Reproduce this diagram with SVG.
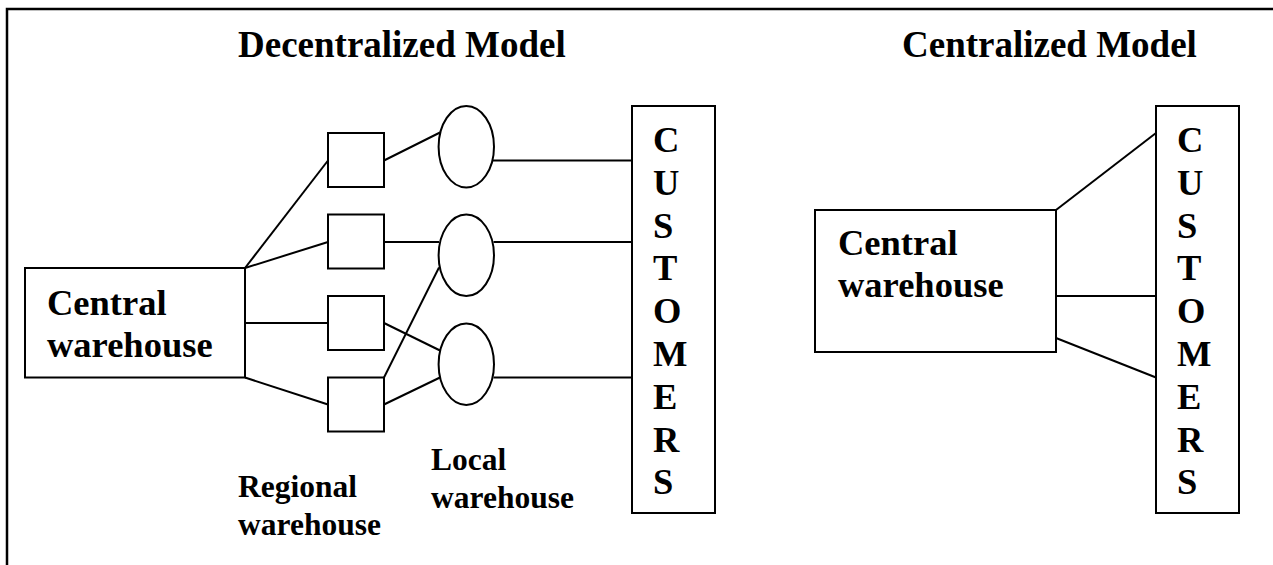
<svg xmlns="http://www.w3.org/2000/svg" width="1273" height="565" viewBox="0 0 1273 565">
  <style>
    .shape { fill: #ffffff; stroke: #000000; stroke-width: 2; }
    .link { fill: none; stroke: #000000; stroke-width: 2; }
    .frame { fill: none; stroke: #000000; stroke-width: 2.5; }
    text { font-family: "Liberation Serif", "Times New Roman", serif; font-weight: bold; fill: #000000; }
    .title { font-size: 37px; }
    .label { font-size: 36.5px; }
    .small { font-size: 31.5px; }
  </style>
  <rect x="0" y="0" width="1273" height="565" fill="#ffffff"/>
  <path class="frame" d="M7,566 V9 H1274"/>

  <text class="title" x="238" y="57">Decentralized Model</text>
  <text class="title" x="902" y="57">Centralized Model</text>

  <!-- connectors -->
  <g id="connectors">
    <!-- decentralized: central to regional -->
    <line class="link" x1="245" y1="268" x2="328" y2="160.5"/>
    <line class="link" x1="245" y1="268" x2="328" y2="242"/>
    <line class="link" x1="245" y1="323" x2="328" y2="323"/>
    <line class="link" x1="245" y1="377.5" x2="328" y2="404.5"/>
    <!-- regional to local -->
    <line class="link" x1="384" y1="160.5" x2="440" y2="132.5"/>
    <line class="link" x1="384" y1="242" x2="439" y2="242"/>
    <line class="link" x1="384" y1="323" x2="440" y2="350.5"/>
    <line class="link" x1="384" y1="377.5" x2="439" y2="267.5"/>
    <line class="link" x1="384" y1="404.5" x2="440" y2="377.5"/>
    <!-- local to customers -->
    <line class="link" x1="493" y1="160.5" x2="632" y2="160.5"/>
    <line class="link" x1="493.5" y1="242" x2="632" y2="242"/>
    <line class="link" x1="493.5" y1="377.5" x2="632" y2="377.5"/>
    <!-- centralized -->
    <line class="link" x1="1056" y1="210" x2="1156" y2="133"/>
    <line class="link" x1="1056" y1="296" x2="1156" y2="296"/>
    <line class="link" x1="1056" y1="338" x2="1156" y2="377.5"/>
  </g>

  <g id="central-warehouse-left">
    <rect class="shape" x="25" y="268" width="220" height="109.5"/>
    <text class="label" x="47" y="315">Central</text>
    <text class="label" x="47" y="357">warehouse</text>
  </g>

  <g id="regional-1"><rect class="shape" x="328" y="133" width="56" height="54"/></g>
  <g id="regional-2"><rect class="shape" x="328" y="214.5" width="56" height="54"/></g>
  <g id="regional-3"><rect class="shape" x="328" y="296" width="56" height="54"/></g>
  <g id="regional-4"><rect class="shape" x="328" y="377.5" width="56" height="54"/></g>

  <g id="local-1"><ellipse class="shape" cx="466.3" cy="146.7" rx="27.7" ry="40.8"/></g>
  <g id="local-2"><ellipse class="shape" cx="466.3" cy="255.3" rx="27.7" ry="40.8"/></g>
  <g id="local-3"><ellipse class="shape" cx="466.3" cy="364.2" rx="27.7" ry="40.8"/></g>

  <g id="regional-label">
    <text class="small" x="238" y="497">Regional</text>
    <text class="small" x="238" y="535">warehouse</text>
  </g>
  <g id="local-label">
    <text class="small" x="431" y="470">Local</text>
    <text class="small" x="431" y="508">warehouse</text>
  </g>

  <g id="customers-left">
    <rect class="shape" x="632" y="106" width="83" height="407"/>
    <text class="label" x="653" y="152">C</text>
    <text class="label" x="653" y="195">U</text>
    <text class="label" x="653" y="237.5">S</text>
    <text class="label" x="653" y="280">T</text>
    <text class="label" x="653" y="323">O</text>
    <text class="label" x="653" y="366">M</text>
    <text class="label" x="653" y="408.5">E</text>
    <text class="label" x="653" y="451.5">R</text>
    <text class="label" x="653" y="494">S</text>
  </g>

  <g id="central-warehouse-right">
    <rect class="shape" x="815" y="210" width="241" height="142"/>
    <text class="label" x="838" y="255">Central</text>
    <text class="label" x="838" y="297">warehouse</text>
  </g>

  <g id="customers-right">
    <rect class="shape" x="1156" y="106" width="83" height="407"/>
    <text class="label" x="1177" y="152">C</text>
    <text class="label" x="1177" y="195">U</text>
    <text class="label" x="1177" y="237.5">S</text>
    <text class="label" x="1177" y="280">T</text>
    <text class="label" x="1177" y="323">O</text>
    <text class="label" x="1177" y="366">M</text>
    <text class="label" x="1177" y="408.5">E</text>
    <text class="label" x="1177" y="451.5">R</text>
    <text class="label" x="1177" y="494">S</text>
  </g>
</svg>
